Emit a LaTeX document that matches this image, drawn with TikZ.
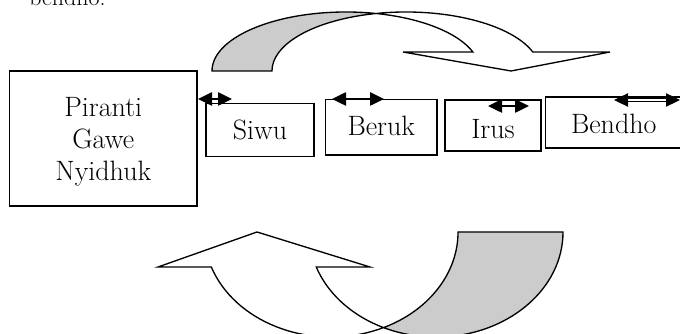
\documentclass[tikz,border=0pt]{standalone}
\usetikzlibrary{arrows.meta}
\definecolor{bandgray}{HTML}{CCCCCC}
\begin{document}
\begin{tikzpicture}[x=0.75pt,y=0.75pt,
  box/.style={draw, line width=1.3pt, inner sep=0pt, text depth=0pt,
    font=\fontsize{21pt}{24pt}\selectfont},
  bandline/.style={draw, line width=1pt, line join=miter},
  tips/.style={line width=1.1pt,
    {Triangle[length=10.5pt,width=10pt]}-{Triangle[length=10.5pt,width=10pt]}}]
\useasboundingbox (0,0) rectangle (680,334);
% clipped line of text at the top
\node[anchor=base west, inner sep=0pt, font=\fontsize{18pt}{22pt}\selectfont] (prevtext) at (29,328) {bendho.};
% boxes
\node[box, minimum width=140.6pt, minimum height=101.25pt, align=center] (piranti) at (103.25,195.5) {Piranti\\Gawe\\Nyidhuk};
\node[box, minimum width=81pt, minimum height=39.75pt, text height=15pt] (siwu) at (260,204) {Siwu};
\node[box, minimum width=83.6pt, minimum height=41.6pt, text height=12pt] (beruk) at (381.25,206.75) {Beruk};
\node[box, minimum width=72pt, minimum height=38.25pt, text height=19.5pt] (irus) at (493,208.5) {Irus};
\node[box, minimum width=102.4pt, minimum height=38.25pt, text height=16.5pt] (bendho) at (613.75,211.5) {Bendho};
% double-headed arrows
\coordinate (a1l) at (198,235); \coordinate (a1r) at (232,235);
\coordinate (a2l) at (332,235); \coordinate (a2r) at (384,235);
\coordinate (a3l) at (488,228); \coordinate (a3r) at (529,228);
\coordinate (a4l) at (614,234); \coordinate (a4r) at (680,234);
\draw[tips] (a1l) -- (a1r);
\draw[tips] (a2l) -- (a2r);
\draw[tips] (a3l) -- (a3r);
\draw[tips, line width=0.8pt, double, double distance=1.3pt] (a4l) -- (a4r);
% top curved arrow
\fill[bandgray] (212,263) arc[start angle=180, end angle=77.06, x radius=134, y radius=59]
  arc[start angle=102.94, end angle=180, x radius=134, y radius=59] -- cycle;
\draw[bandline] (212,263) arc[start angle=180, end angle=18.8, x radius=134, y radius=59]
  -- (403,282) -- (511,263) -- (610,282) -- (532.8,282)
  arc[start angle=18.8, end angle=180, x radius=134, y radius=59] -- cycle;
% bottom curved arrow
\fill[bandgray] (458,102) arc[start angle=0, end angle=-65.58, x radius=127, y radius=105]
  arc[start angle=-114.42, end angle=0, x radius=127, y radius=105] -- cycle;
\draw[bandline] (563,102) arc[start angle=0, end angle=-160.53, x radius=127, y radius=105]
  -- (370,67) -- (257,102) -- (158,67) -- (211.3,67)
  arc[start angle=-160.53, end angle=0, x radius=127, y radius=105] -- cycle;
\end{tikzpicture}
\end{document}
